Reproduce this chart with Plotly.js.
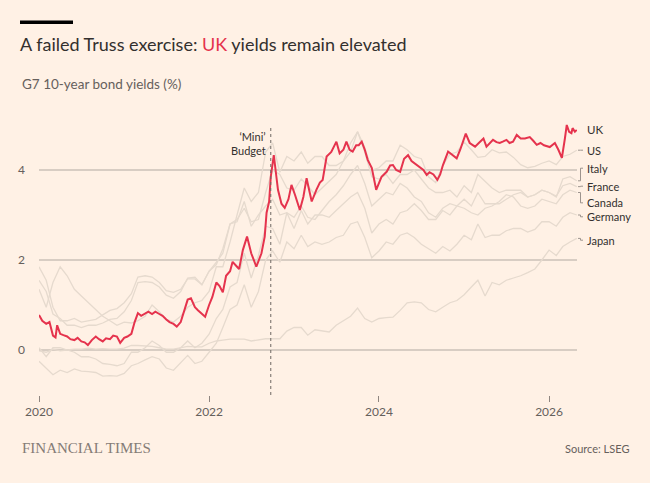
<!DOCTYPE html>
<html>
<head>
<meta charset="utf-8">
<script src="https://cdn.plot.ly/plotly-3.0.1.min.js"></script>
<style>
  html, body { margin: 0; padding: 0; background: #fff1e5; }
  #chart { width: 650px; height: 483px; }
</style>
</head>
<body>
<div id="chart"></div>
<script>
// ---- data ----
const ukDates = [
  '2020-01-01','2020-01-15','2020-02-01','2020-02-15','2020-03-01','2020-03-12','2020-03-19','2020-04-01','2020-04-15','2020-05-01',
  '2020-05-15','2020-06-01','2020-06-15','2020-07-01','2020-07-15','2020-07-29','2020-08-15','2020-09-01','2020-09-15','2020-10-01',
  '2020-10-15','2020-11-01','2020-11-15','2020-12-01','2020-12-15','2021-01-01','2021-01-15','2021-02-01','2021-02-15','2021-03-01',
  '2021-03-15','2021-04-01','2021-04-15','2021-05-01','2021-05-15','2021-06-01','2021-06-15','2021-07-01','2021-07-15','2021-08-01',
  '2021-08-15','2021-09-01','2021-09-15','2021-10-01','2021-10-15','2021-11-01','2021-11-15','2021-12-01','2021-12-15','2022-01-01',
  '2022-01-15','2022-02-01','2022-02-15','2022-03-01','2022-03-15','2022-04-01','2022-04-12','2022-05-01','2022-05-10','2022-05-26',
  '2022-06-13','2022-07-01','2022-07-23','2022-08-14','2022-08-28','2022-09-05','2022-09-16','2022-09-23','2022-10-06','2022-10-16',
  '2022-10-24','2022-11-08','2022-11-22','2022-12-08','2022-12-21','2023-01-05','2023-01-26','2023-02-10','2023-02-24','2023-03-05',
  '2023-03-18','2023-04-07','2023-04-22','2023-05-04','2023-05-21','2023-06-10','2023-07-02','2023-07-16','2023-08-01','2023-08-14',
  '2023-08-28','2023-09-10','2023-09-25','2023-10-06','2023-10-19','2023-11-01','2023-11-14','2023-12-01','2023-12-20','2024-01-12',
  '2024-02-03','2024-02-18','2024-03-01','2024-03-15','2024-04-01','2024-04-18','2024-05-05','2024-05-20','2024-06-10','2024-06-25',
  '2024-07-10','2024-07-24','2024-08-05','2024-08-22','2024-09-08','2024-09-20','2024-10-02','2024-10-24','2024-11-10','2024-11-30',
  '2024-12-15','2025-01-08','2025-01-25','2025-02-17','2025-03-05','2025-03-25','2025-04-07','2025-04-20','2025-05-05','2025-05-20',
  '2025-06-03','2025-06-16','2025-07-02','2025-07-15','2025-07-30','2025-08-15','2025-09-01','2025-09-19','2025-10-10','2025-10-25',
  '2025-11-09','2025-11-25','2025-12-10','2026-01-04','2026-01-26','2026-02-10','2026-02-25','2026-03-10','2026-03-18','2026-03-28',
  '2026-04-07','2026-04-12','2026-04-22','2026-04-30'
];
const ukYields = [
  0.78,0.65,0.58,0.62,0.32,0.28,0.55,0.36,0.33,0.30,
  0.24,0.22,0.27,0.19,0.17,0.11,0.22,0.30,0.24,0.19,
  0.26,0.24,0.32,0.30,0.16,0.27,0.30,0.36,0.62,0.82,
  0.76,0.82,0.85,0.80,0.85,0.80,0.76,0.68,0.62,0.58,
  0.52,0.62,0.85,1.12,1.15,0.95,0.88,0.80,0.74,1.00,
  1.18,1.50,1.42,1.28,1.65,1.75,1.96,1.85,1.80,2.22,
  2.52,2.15,1.85,2.15,2.52,3.05,3.30,3.85,4.33,3.90,
  3.56,3.25,3.16,3.35,3.67,3.45,3.11,3.40,3.82,3.60,
  3.30,3.56,3.72,3.78,4.30,4.40,4.63,4.37,4.45,4.63,
  4.45,4.41,4.55,4.55,4.63,4.45,4.22,4.05,3.56,3.85,
  3.96,4.10,4.11,4.00,3.96,4.25,4.33,4.20,4.11,4.05,
  4.00,3.89,3.95,3.90,3.78,3.90,4.11,4.41,4.35,4.26,
  4.45,4.81,4.60,4.52,4.60,4.70,4.52,4.60,4.67,4.62,
  4.60,4.63,4.67,4.60,4.63,4.78,4.70,4.70,4.73,4.65,
  4.56,4.60,4.55,4.51,4.60,4.45,4.27,4.70,5.00,4.85,
  4.82,4.93,4.85,4.89
];

// monthly readings, Jan 2020 .. Apr 2026, plus the final value at end of April 2026
const usYields = [
  1.85,1.55,0.95,0.65,0.65,0.70,0.62,0.65,0.68,0.78,0.88,0.92,
  1.05,1.25,1.62,1.65,1.62,1.50,1.32,1.28,1.35,1.58,1.58,1.45,
  1.75,1.95,2.15,2.80,2.90,3.15,2.85,2.90,3.50,4.00,3.90,3.60,
  3.55,3.80,3.65,3.45,3.60,3.75,3.90,4.20,4.40,4.85,4.50,4.00,
  4.05,4.20,4.20,4.55,4.45,4.30,4.25,3.85,3.72,4.10,4.35,4.40,
  4.62,4.45,4.28,4.30,4.45,4.38,4.40,4.28,4.12,4.05,4.08,4.15,
  4.20,4.12,4.30,4.35,4.44
];
const italyYields = [
  1.35,0.95,1.50,1.85,1.65,1.35,1.20,1.05,0.90,0.75,0.65,0.55,
  0.62,0.60,0.65,0.75,1.00,0.85,0.68,0.62,0.75,0.95,1.05,1.10,
  1.30,1.85,1.85,2.40,3.00,3.60,3.30,3.50,4.40,4.60,3.95,4.30,
  4.20,4.40,4.15,4.30,4.30,4.10,4.10,4.20,4.60,4.85,4.40,3.85,
  3.80,3.90,3.70,3.90,3.90,4.00,3.80,3.60,3.50,3.50,3.55,3.40,
  3.65,3.50,3.90,3.75,3.60,3.50,3.55,3.55,3.55,3.40,3.45,3.55,
  3.50,3.40,3.80,3.85,3.76
];
const franceYields = [
  0.05,-0.15,0.05,0.05,0.00,-0.05,-0.15,-0.15,-0.20,-0.30,-0.32,-0.35,
  -0.30,-0.05,-0.05,0.05,0.20,0.10,-0.05,-0.05,0.05,0.20,0.05,0.15,
  0.35,0.70,0.90,1.40,1.50,2.15,1.60,2.10,2.75,2.70,2.35,3.05,
  2.70,3.10,2.80,3.00,3.00,2.95,3.10,3.25,3.40,3.50,3.15,2.60,
  2.80,2.90,2.80,3.05,3.10,3.25,3.10,2.90,2.90,3.10,3.00,3.20,
  3.35,3.20,3.50,3.25,3.25,3.25,3.35,3.45,3.50,3.40,3.45,3.55,
  3.50,3.42,3.65,3.70,3.63
];
const canadaYields = [
  1.55,1.30,0.80,0.70,0.55,0.55,0.50,0.55,0.55,0.60,0.68,0.70,
  0.85,1.10,1.50,1.52,1.50,1.40,1.22,1.15,1.30,1.60,1.62,1.45,
  1.75,1.90,2.25,2.80,2.85,3.30,2.75,3.00,3.20,3.35,3.00,3.05,
  2.95,3.20,2.95,2.90,3.10,3.30,3.45,3.65,3.90,4.10,3.70,3.20,
  3.35,3.50,3.45,3.70,3.60,3.40,3.30,3.05,2.95,3.15,3.25,3.20,
  3.15,3.05,3.00,3.15,3.20,3.30,3.45,3.40,3.20,3.15,3.20,3.35,
  3.30,3.25,3.45,3.55,3.50
];
const germanyYields = [
  -0.25,-0.40,-0.55,-0.45,-0.50,-0.42,-0.47,-0.48,-0.50,-0.58,-0.57,-0.58,
  -0.52,-0.35,-0.30,-0.22,-0.15,-0.20,-0.40,-0.45,-0.28,-0.12,-0.30,-0.25,
  -0.05,0.15,0.50,0.90,1.00,1.45,0.95,1.30,2.00,2.20,1.95,2.40,
  2.25,2.55,2.30,2.40,2.35,2.40,2.50,2.55,2.80,2.85,2.50,2.05,
  2.20,2.40,2.35,2.55,2.60,2.50,2.35,2.25,2.15,2.30,2.20,2.35,
  2.55,2.45,2.80,2.50,2.55,2.55,2.65,2.70,2.70,2.62,2.68,2.85,
  2.85,2.75,2.95,3.05,3.00
];
const japanYields = [
  -0.02,-0.05,0.02,-0.02,0.00,0.02,0.02,0.04,0.02,0.03,0.02,0.02,
  0.04,0.10,0.10,0.09,0.08,0.05,0.02,0.02,0.05,0.08,0.07,0.07,
  0.15,0.20,0.22,0.24,0.24,0.24,0.20,0.22,0.25,0.25,0.25,0.42,
  0.50,0.50,0.33,0.45,0.43,0.40,0.55,0.65,0.75,0.93,0.70,0.62,
  0.70,0.72,0.73,0.88,1.05,1.07,1.05,0.90,0.85,0.95,1.05,1.10,
  1.23,1.40,1.55,1.20,1.50,1.45,1.55,1.60,1.65,1.72,1.80,2.00,
  2.22,2.10,2.30,2.40,2.48
];

const countries = ['US', 'Italy', 'France', 'Canada', 'Germany', 'Japan'];
const countryYields = [usYields, italyYields, franceYields, canadaYields, germanyYields, japanYields];
const tickYears = ['2020', '2022', '2024', '2026'];
const yTicks = [0, 2, 4];
const miniBudgetDate = '2022-09-23';

// ---- styling ----
const BG = '#fff1e5';
const TEXT = '#33302e';
const TEXT_SOFT = '#66605c';
const GRID = '#d8cdc3';
const PEER_LINE = '#e6dace';
const UK_RED = '#e5334d';
const FONT = "Lato, 'Open Sans', sans-serif";

// label heights on the right-hand side (data units), spaced so they don't collide
const LABEL_Y = { UK: 4.89, US: 4.44, Italy: 4.04, France: 3.64, Canada: 3.27, Germany: 2.96, Japan: 2.44 };

// plot box in pixels, used to place the furniture outside it
const PLOT = { left: 39, right: 577, top: 112, bottom: 395 };
const pw = PLOT.right - PLOT.left;
const ph = PLOT.bottom - PLOT.top;
const px = x => (x - PLOT.left) / pw;
const py = y => (PLOT.bottom - y) / ph;

function monthlyDates(firstYear, count, finalDate) {
  const out = [];
  for (let i = 0; i < count; i++) {
    const y = firstYear + Math.floor(i / 12);
    const m = String(i % 12 + 1).padStart(2, '0');
    out.push(`${y}-${m}-01`);
  }
  out.push(finalDate);
  return out;
}

const peerDates = monthlyDates(2020, 76, '2026-04-30');

const traces = countryYields.map((ys, i) => ({
  x: peerDates,
  y: ys,
  type: 'scatter',
  mode: 'lines',
  name: countries[i],
  line: { color: PEER_LINE, width: 1.3 },
  hoverinfo: 'skip',
}));

traces.push({
  x: ukDates,
  y: ukYields,
  type: 'scatter',
  mode: 'lines',
  name: 'UK',
  line: { color: UK_RED, width: 2 },
  hoverinfo: 'skip',
});

const annotations = [
  {
    xref: 'paper', yref: 'paper', x: px(20), y: py(84),
    xanchor: 'left', yanchor: 'middle', showarrow: false,
    text: 'G7 10-year bond yields (%)',
    font: { family: FONT, size: 13.5, color: TEXT_SOFT },
  },
  {
    xref: 'x', yref: 'y', x: miniBudgetDate, y: 4.58,
    xanchor: 'right', yanchor: 'middle', xshift: -3, showarrow: false,
    align: 'right',
    text: '‘Mini’<br>Budget',
    font: { family: FONT, size: 11, color: TEXT },
  },
  {
    xref: 'paper', yref: 'paper', x: px(20), y: py(448),
    xanchor: 'left', yanchor: 'middle', showarrow: false,
    text: 'FINANCIAL TIMES',
    font: { family: "'Liberation Serif', 'DejaVu Serif', serif", size: 15, color: '#857c76' },
  },
  {
    xref: 'paper', yref: 'paper', x: px(631), y: py(448),
    xanchor: 'right', yanchor: 'middle', showarrow: false,
    text: 'Source: LSEG',
    font: { family: FONT, size: 11, color: TEXT_SOFT },
  },
  {
    xref: 'paper', yref: 'y', x: px(585), y: LABEL_Y.UK,
    xanchor: 'left', yanchor: 'middle', showarrow: false,
    text: 'UK',
    font: { family: FONT, size: 11.5, color: TEXT },
  },
];

const shapes = [
  // FT top bar
  {
    type: 'rect', xref: 'paper', yref: 'paper',
    x0: px(20), x1: px(73), y0: py(24), y1: py(20.5),
    fillcolor: '#000000', line: { width: 0 },
  },
  // Mini-budget marker
  {
    type: 'line', xref: 'x', yref: 'y',
    x0: miniBudgetDate, x1: miniBudgetDate, y0: -1, y1: 5.0,
    line: { color: '#6f6863', width: 1, dash: 'dot' },
  },
];

countries.forEach((name, i) => {
  const ys = countryYields[i];
  const last = ys[ys.length - 1];
  const ly = LABEL_Y[name];
  const a = px(578), b = px(580.5), c = px(583);
  shapes.push({
    type: 'path', xref: 'paper', yref: 'y',
    path: `M ${a},${last} L ${b},${last} L ${b},${ly} L ${c},${ly}`,
    line: { color: '#9d948e', width: 1 },
  });
  annotations.push({
    xref: 'paper', yref: 'y', x: px(585), y: ly,
    xanchor: 'left', yanchor: 'middle', showarrow: false,
    text: name,
    font: { family: FONT, size: 11, color: TEXT },
  });
});

const layout = {
  width: 650,
  height: 483,
  paper_bgcolor: BG,
  plot_bgcolor: BG,
  showlegend: false,
  hovermode: false,
  font: { family: FONT, color: TEXT_SOFT, size: 12 },
  margin: { l: PLOT.left, r: 650 - PLOT.right, t: PLOT.top, b: 483 - PLOT.bottom, pad: 0 },
  title: {
    text: 'A failed Truss exercise: <span style="color:' + UK_RED + '">UK</span> yields remain elevated',
    xref: 'container', yref: 'container',
    x: 20 / 650, y: 1 - 45 / 483,
    xanchor: 'left', yanchor: 'middle',
    font: { family: FONT, size: 18, color: TEXT },
  },
  xaxis: {
    type: 'date',
    range: ['2020-01-01', '2026-05-01'],
    tickvals: tickYears.map(y => y + '-01-01'),
    ticktext: tickYears,
    ticks: 'outside',
    ticklen: 6,
    tickwidth: 1,
    tickcolor: '#8f8680',
    showgrid: false,
    zeroline: false,
    showline: false,
    tickfont: { family: FONT, size: 12, color: TEXT_SOFT },
  },
  yaxis: {
    range: [-1, -1 + ph / 45],
    tickvals: yTicks,
    ticktext: yTicks.map(String),
    ticks: '',
    showgrid: true,
    gridcolor: GRID,
    gridwidth: 1.5,
    zeroline: false,
    showline: false,
    ticklabelstandoff: 13,
    tickfont: { family: FONT, size: 12, color: TEXT_SOFT },
  },
  annotations,
  shapes,
};

Plotly.newPlot('chart', traces, layout, { displayModeBar: false, staticPlot: true });
</script>
</body>
</html>
